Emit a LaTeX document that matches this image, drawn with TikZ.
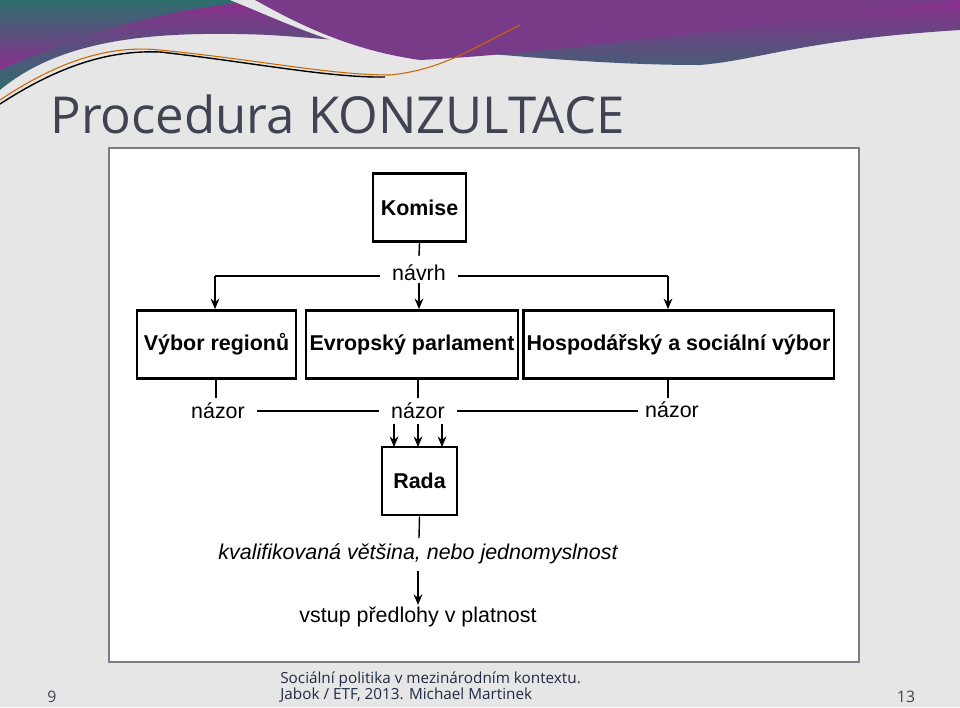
\documentclass[tikz,border=0pt]{standalone}
\usepackage{fontspec}
\setmainfont{Liberation Sans}
\newfontfamily\titlefont{Open Sans}
\usetikzlibrary{arrows.meta}
\definecolor{bggray}{HTML}{E6E6E6}
\definecolor{titlecol}{HTML}{404452}
\definecolor{teal}{HTML}{2E6E6E}
\definecolor{violet}{HTML}{8A2E8E}
\definecolor{footcol}{HTML}{1F2A44}
\tikzset{
  orgbox/.style={draw, line width=1.6pt, minimum height=1.36cm, inner sep=2pt, font=\bfseries\fontsize{12.2}{14}\selectfont},
  flowtext/.style={font=\fontsize{12.2}{14}\selectfont, inner sep=1pt},
  arr/.style={-{Stealth[length=6pt,width=5pt]}, line width=0.8pt},
  link/.style={line width=0.8pt}
}
\begin{document}
\begin{tikzpicture}[x=0.02cm,y=-0.02cm]
    \useasboundingbox (0,0) rectangle (960,707);
    \fill[bggray] (0,0) rectangle (960,707);

    % banner
    \shade[left color=violet, right color=teal, shading angle=0]
      (0,0) -- (0,90) .. controls (60,40) and (150,30) .. (270,35)
      .. controls (420,45) and (560,65) .. (700,65) .. controls (760,60) and (800,40) .. (960,30) -- (960,0) -- cycle;
    \shade[top color=teal, bottom color=violet]
      (0,0) -- (0,70) .. controls (100,25) and (200,0) .. (300,0) -- cycle;
    \fill[bggray] (230,0) .. controls (280,20) and (330,45) .. (400,58)
      .. controls (330,35) and (290,15) .. (260,0) -- cycle;
    \fill[violet!80!teal] (255,0) .. controls (300,25) and (350,50) .. (420,60)
      .. controls (520,55) and (700,35) .. (960,0) -- cycle;
    \draw[orange!80!black, line width=0.6pt] (0,100) .. controls (60,60) and (110,45) .. (160,50)
      .. controls (260,60) and (330,75) .. (390,75) .. controls (440,70) and (470,50) .. (520,25);
    \draw[black, line width=0.8pt] (0,104) .. controls (60,65) and (110,50) .. (160,52)
      .. controls (250,62) and (330,78) .. (385,77);

    % title
    \node[anchor=base west, text=titlecol, inner sep=0pt, font=\titlefont\fontsize{29}{34}\selectfont] (title) at (50,133) {Procedura KONZULTACE};

    % panel
    \draw[fill=white, draw=titlecol!70, line width=0.6pt] (109,148) rectangle (859,662);

    \node[orgbox, minimum width=1.86cm] (komise) at (419.5,207.5) {Komise};
    \node[flowtext] (navrh) at (419,273) {návrh};
    \node[orgbox, minimum width=3.18cm] (vybor) at (216.5,344.5) {Výbor regionů};
    \node[orgbox, minimum width=4.24cm] (ep) at (412,344.5) {Evropský parlament};
    \node[orgbox, minimum width=6.14cm] (hsv) at (678.5,344.5) {Hospodářský a sociální výbor};

    \coordinate (nl) at (215,276);
    \coordinate (nr) at (668,276);
    \draw[link] (komise.south) -- ([yshift=4pt]navrh.north);
    \draw[link] ([xshift=-6pt]navrh.west |- nl) -- (nl);
    \draw[link] ([xshift=6pt]navrh.east |- nr) -- (nr);
    \draw[arr] (nl) -- (nl |- vybor.north);
    \draw[arr] (nr) -- (nr |- hsv.north);
    \draw[arr] (navrh.south) -- (navrh |- ep.north);

    \node[flowtext] (n1) at (218,411) {názor};
    \node[flowtext] (n2) at (418,411) {názor};
    \node[flowtext] (n3) at (672,410) {názor};
    \draw[link] (216,378) -- (216,398);
    \draw[link] (418,378) -- (418,398);
    \draw[link] (668,378) -- (668,398);
    \draw[link] ([xshift=6pt]n1.east) -- ([xshift=-6pt]n2.west);
    \draw[link] ([xshift=6pt]n2.east) -- (638,411);

    \node[orgbox, minimum width=1.5cm] (rada) at (419.5,481) {Rada};
    \foreach \dx in {-24,0,24} {
      \draw[arr] (418+\dx,424) -- (418+\dx,447);
    }

    \node[flowtext, font=\itshape\fontsize{12.2}{14}\selectfont] (kval) at (418,554) {kvalifikovaná většina, nebo jednomyslnost};
    \draw[link] (rada.south) -- (419,538);
    \node[flowtext] (vstup) at (418,617) {vstup předlohy v platnost};
    \draw[arr] (418,571) -- (vstup.north);

    % footer
    \node[anchor=base, text=titlecol, font=\titlefont\fontsize{9}{11}\selectfont] (pg) at (52,702) {9};
    \node[anchor=north west, align=left, text=footcol, inner sep=0pt, font=\titlefont\fontsize{8.7}{9.6}\selectfont] (foot) at (280,671)
      {Sociální politika v mezinárodním kontextu.\\Jabok / ETF, 2013. Michael Martinek};
    \node[anchor=base, text=titlecol, font=\titlefont\fontsize{9}{11}\selectfont] (sl) at (906,702) {13};
\end{tikzpicture}
\end{document}
